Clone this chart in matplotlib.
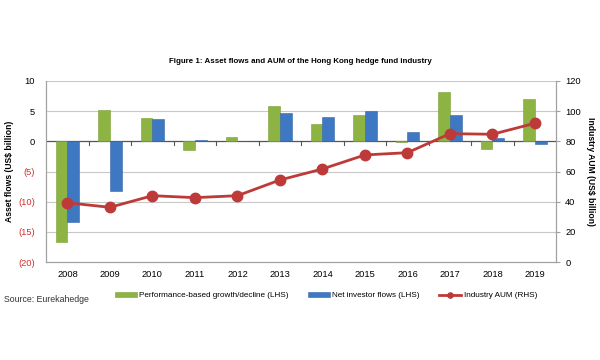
import numpy as np
import matplotlib.pyplot as plt
from matplotlib.ticker import FuncFormatter

years = ['2008', '2009', '2010', '2011', '2012', '2013',
         '2014', '2015', '2016', '2017', '2018', '2019']
performance = [-16.7, 5.2, 3.8, -1.5, 0.7, 5.8, 2.8, 4.4, -0.1, 8.2, -1.2, 7.1]
net_flows = [-13.3, -8.3, 3.7, 0.2, 0.1, 4.7, 4.1, 5.0, 1.5, 4.3, 0.6, -0.4]
aum = [39.3, 36.3, 44.0, 42.7, 44.0, 54.4, 61.7, 71.0, 72.5, 85.1, 84.7, 92.0]

green = '#8DB443'
blue = '#3F78C2'
red = '#BE3A38'
grid_c = '#C8C8C8'

plt.rcParams['font.family'] = ['Liberation Sans', 'DejaVu Sans']

fig = plt.figure(figsize=(6, 3.6), dpi=100)
ax = fig.add_axes([0.077, 0.272, 0.850, 0.503])
ax2 = ax.twinx()
ax.set_zorder(ax2.get_zorder() + 1)
ax.patch.set_visible(False)

x = np.arange(len(years))
w = 0.28
ax.bar(x - w / 2, performance, w, color=green, edgecolor='#7A9E35', linewidth=0.4,
       label='Performance-based growth/decline (LHS)', zorder=3)
ax.bar(x + w / 2, net_flows, w, color=blue, edgecolor='#3466A8', linewidth=0.4,
       label='Net investor flows (LHS)', zorder=3)

# line on the right axis, drawn over the bars
ax3 = ax.twinx()
ax3.set_zorder(ax.get_zorder() + 1)
ax3.patch.set_visible(False)
ax3.plot(x, aum, color=red, linewidth=2, marker='o', markersize=7.5,
         label='Industry AUM (RHS)', zorder=4)
for a in (ax2, ax3):
    a.set_ylim(0, 120)
    a.set_yticks(range(0, 121, 20))
ax3.axis('off')

ax.set_xlim(-0.5, len(years) - 0.5)
ax.set_ylim(-20, 10)
ax.set_yticks(range(-20, 11, 5))


def lhs_fmt(v, pos):
    return f'({abs(int(v))})' if v < 0 else f'{int(v)}'


ax.yaxis.set_major_formatter(FuncFormatter(lhs_fmt))
for lbl, v in zip(ax.get_yticklabels(), range(-20, 11, 5)):
    if v < 0:
        lbl.set_color('#D03030')
ax.tick_params(axis='y', length=0, labelsize=6.7, pad=8)
ax.set_xticks(x)
ax.set_xticklabels(years)
ax.tick_params(axis='x', length=0, labelsize=6.7, pad=6)

for v in range(-15, 11, 5):
    if v != 0:
        ax.axhline(v, color=grid_c, linewidth=0.8, zorder=0)
ax.axhline(0, color='#555555', linewidth=0.9, zorder=2)
for b in np.arange(0.5, len(years) - 0.5, 1):
    ax.plot([b, b], [0, -0.6], color='#555555', linewidth=0.8, zorder=2)

for s in ['top']:
    ax.spines[s].set_visible(False)
    ax2.spines[s].set_visible(False)
for s in ['left', 'bottom', 'right']:
    ax.spines[s].set_color('#A0A0A0')
    ax2.spines[s].set_color('#A0A0A0')
ax2.spines['right'].set_visible(True)
ax2.tick_params(axis='y', length=3, color='#A0A0A0', labelsize=6.7)

ax.set_ylabel('Asset flows (US$ billion)', fontsize=6.2, fontweight='bold', labelpad=3)
ax2.set_ylabel('Industry AUM (US$ billion)', fontsize=6.2, fontweight='bold',
               rotation=270, labelpad=10)

fig.text(0.5, 0.828, 'Figure 1: Asset flows and AUM of the Hong Kong hedge fund industry',
         ha='center', va='center', fontsize=5.7, fontweight='bold')

h1, l1 = ax.get_legend_handles_labels()
h3, l3 = ax3.get_legend_handles_labels()
fig.legend(h1 + h3, l1 + l3, loc='center', bbox_to_anchor=(0.543, 0.178), ncol=3,
           frameon=False, fontsize=5.9, handlelength=2.7, handleheight=0.45,
           columnspacing=2.4, handletextpad=0.25, markerscale=0.5)
fig.text(0.006, 0.168, 'Source: Eurekahedge', fontsize=6.3, va='center', color='#333333')

fig.savefig('out.png', dpi=100)
